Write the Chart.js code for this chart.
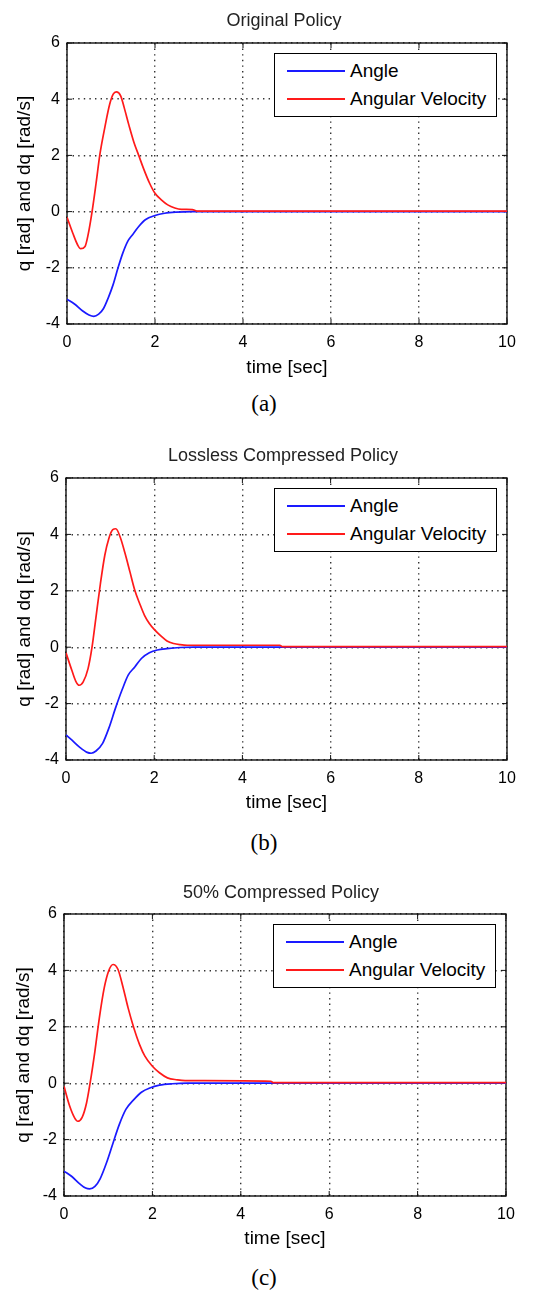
<!DOCTYPE html>
<html>
<head>
<meta charset="utf-8">
<title>Policy comparison</title>
<script src="https://cdn.jsdelivr.net/npm/chart.js@4.4.0/dist/chart.umd.min.js"></script>
<style>
    body { margin: 0; background: #fff; }
    #page {
        position: relative;
        width: 547px;
        height: 1295px;
        overflow: hidden;
        font-family: "Liberation Sans", Arial, sans-serif;
    }
    .panel { position: absolute; left: 0; width: 547px; }
    .title, .caption {
        position: absolute;
        white-space: nowrap;
        transform: translate(-50%, -50%);
    }
    .title { font-size: 18px; color: #222; }
    .caption { font-family: "Liberation Serif", "Times New Roman", serif; font-size: 23px; color: #000; }
    .legend {
        position: absolute;
        background: #fff;
        border: 1px solid #000;
        box-sizing: border-box;
    }
    .legend .row {
        position: absolute;
        left: 0;
        height: 24px;
        display: flex;
        align-items: center;
        font-size: 19px;
        color: #000;
        white-space: nowrap;
    }
    .legend .swatch { display: inline-block; width: 58px; height: 2px; margin: 0 5px 0 12px; }
</style>
</head>
<body>
<div id="page"></div>
<script>
// legend / titles
const seriesLabels = ['Angle', 'Angular Velocity'];
const seriesColors = ['#1a1aff', '#ff1a1a'];
const titles = ['Original Policy', 'Lossless Compressed Policy', '50% Compressed Policy'];
const captions = ['(a)', '(b)', '(c)'];
const xLabel = 'time [sec]';
const yLabel = 'q [rad] and dq [rad/s]';
const xRange = [0, 10];
const yRange = [-4, 6];
const tickStep = 2;

// (a) Original Policy
const timeAngleA = [0, 0.17, 0.35, 0.5, 0.61, 0.72, 0.83, 0.94, 1.05, 1.16, 1.27, 1.38, 1.49, 1.63, 1.78, 2.0, 2.22, 2.48, 2.85, 10];
const angleA     = [-3.12, -3.29, -3.53, -3.68, -3.73, -3.65, -3.45, -3.06, -2.59, -2.0, -1.47, -1.06, -0.82, -0.53, -0.29, -0.14, -0.06, -0.02, 0, 0];
const timeVelA   = [0, 0.13, 0.24, 0.31, 0.41, 0.48, 0.57, 0.66, 0.75, 0.86, 0.97, 1.05, 1.12, 1.22, 1.30, 1.41, 1.52, 1.63, 1.74, 1.88, 2.0, 2.15, 2.29, 2.45, 2.6, 2.85, 2.95, 10];
const velA       = [-0.2, -0.76, -1.18, -1.32, -1.24, -0.82, 0, 1.0, 2.06, 3.0, 3.82, 4.18, 4.26, 4.12, 3.7, 3.06, 2.47, 2.0, 1.53, 1.0, 0.65, 0.41, 0.24, 0.13, 0.08, 0.07, 0.02, 0.02];

// (b) Lossless Compressed Policy
const timeAngleB = [0, 0.13, 0.32, 0.48, 0.57, 0.68, 0.83, 0.97, 1.12, 1.27, 1.41, 1.56, 1.71, 1.89, 2.07, 2.29, 2.59, 2.9, 10];
const angleB     = [-3.11, -3.29, -3.56, -3.73, -3.76, -3.68, -3.41, -2.88, -2.17, -1.52, -0.99, -0.7, -0.4, -0.2, -0.1, -0.05, -0.01, 0, 0];
const timeVelB   = [0, 0.13, 0.22, 0.30, 0.39, 0.50, 0.59, 0.68, 0.78, 0.88, 0.97, 1.06, 1.13, 1.23, 1.34, 1.45, 1.56, 1.67, 1.78, 1.89, 2.0, 2.15, 2.29, 2.44, 2.59, 2.75, 4.85, 4.9, 10];
const velB       = [-0.2, -0.81, -1.2, -1.35, -1.23, -0.76, 0, 1.07, 2.25, 3.26, 3.85, 4.17, 4.2, 3.9, 3.32, 2.67, 2.02, 1.55, 1.13, 0.84, 0.63, 0.4, 0.22, 0.13, 0.09, 0.07, 0.07, 0.02, 0.02];

// (c) 50% Compressed Policy
const timeAngleC = [0, 0.17, 0.35, 0.49, 0.58, 0.70, 0.82, 0.96, 1.11, 1.25, 1.40, 1.58, 1.76, 1.94, 2.16, 2.45, 2.8, 10];
const angleC     = [-3.12, -3.3, -3.56, -3.72, -3.75, -3.66, -3.38, -2.83, -2.12, -1.47, -0.93, -0.58, -0.31, -0.17, -0.07, -0.02, 0, 0];
const timeVelC   = [0, 0.13, 0.24, 0.31, 0.41, 0.51, 0.59, 0.70, 0.80, 0.91, 1.01, 1.11, 1.22, 1.33, 1.45, 1.58, 1.71, 1.83, 2.0, 2.16, 2.34, 2.56, 2.74, 4.68, 4.73, 10];
const velC       = [-0.11, -0.82, -1.23, -1.35, -1.21, -0.7, 0, 1.14, 2.32, 3.38, 3.98, 4.21, 4.04, 3.44, 2.67, 1.96, 1.37, 0.96, 0.6, 0.37, 0.19, 0.12, 0.09, 0.07, 0.02, 0.02];

// page layout: plot box [left, top, right, bottom] in page pixels
const panels = [
    { plot: [67, 43, 507, 324], titlePos: [284, 20], xLabelY: 368, captionY: 404, yLabelX: 25,
      tAng: timeAngleA, ang: angleA, tVel: timeVelA, vel: velA },
    { plot: [66, 478, 507, 760], titlePos: [283, 455], xLabelY: 803, captionY: 843, yLabelX: 25,
      tAng: timeAngleB, ang: angleB, tVel: timeVelB, vel: velB },
    { plot: [64, 914, 506, 1196], titlePos: [281, 892], xLabelY: 1239, captionY: 1278, yLabelX: 24,
      tAng: timeAngleC, ang: angleC, tVel: timeVelC, vel: velC }
];

const page = document.getElementById('page');

function toPoints(xs, ys) {
    return xs.map((x, i) => ({ x: x, y: ys[i] }));
}

// solid box round the axes, with short inward ticks like matlab
const framePlugin = {
    id: 'frame',
    beforeDatasetsDraw(chart) {
        const { ctx, chartArea: a, scales } = chart;
        ctx.save();
        ctx.strokeStyle = '#111';
        ctx.lineWidth = 1.4;
        ctx.strokeRect(a.left, a.top, a.right - a.left, a.bottom - a.top);
        ctx.lineWidth = 1;
        ctx.beginPath();
        scales.x.ticks.forEach(t => {
            const px = scales.x.getPixelForValue(t.value);
            ctx.moveTo(px, a.bottom); ctx.lineTo(px, a.bottom - 5);
            ctx.moveTo(px, a.top); ctx.lineTo(px, a.top + 5);
        });
        scales.y.ticks.forEach(t => {
            const py = scales.y.getPixelForValue(t.value);
            ctx.moveTo(a.left, py); ctx.lineTo(a.left + 5, py);
            ctx.moveTo(a.right, py); ctx.lineTo(a.right - 5, py);
        });
        ctx.stroke();
        ctx.restore();
    }
};

function addText(cls, text, x, y) {
    const el = document.createElement('div');
    el.className = cls;
    el.textContent = text;
    el.style.left = x + 'px';
    el.style.top = y + 'px';
    page.appendChild(el);
}

function addLegend(p) {
    const [L, T, R] = p.plot;
    const box = document.createElement('div');
    box.className = 'legend';
    box.style.left = (R - 10 - 223) + 'px';
    box.style.top = (T + 10) + 'px';
    box.style.width = '223px';
    box.style.height = '64px';
    [18, 46].forEach((cy, i) => {
        const row = document.createElement('div');
        row.className = 'row';
        row.style.top = (cy - 12 - 1) + 'px';
        const sw = document.createElement('span');
        sw.className = 'swatch';
        sw.style.background = seriesColors[i];
        row.appendChild(sw);
        row.appendChild(document.createTextNode(seriesLabels[i]));
        box.appendChild(row);
    });
    page.appendChild(box);
}

function makePanel(p, idx) {
    const [L, T, R, B] = p.plot;
    const top = T - 20;
    const height = p.xLabelY + 16 - top;
    const xAxisH = height - (B - top);

    const div = document.createElement('div');
    div.className = 'panel';
    div.style.top = top + 'px';
    div.style.height = height + 'px';
    const canvas = document.createElement('canvas');
    canvas.width = 547;
    canvas.height = height;
    div.appendChild(canvas);
    page.appendChild(div);

    const gridStyle = { color: 'rgba(0,0,0,0.8)', lineWidth: 1.4, drawTicks: false };

    new Chart(canvas, {
        type: 'line',
        data: {
            // velocity first so the red line sits on top where they overlap
            datasets: [{
                label: seriesLabels[1],
                data: toPoints(p.tVel, p.vel),
                borderColor: seriesColors[1]
            }, {
                label: seriesLabels[0],
                data: toPoints(p.tAng, p.ang),
                borderColor: seriesColors[0]
            }]
        },
        options: {
            responsive: false,
            animation: false,
            layout: { padding: { top: 20, right: 547 - R, left: 0, bottom: 0 } },
            elements: {
                point: { radius: 0 },
                line: { borderWidth: 1.7, cubicInterpolationMode: 'monotone' }
            },
            plugins: { legend: { display: false }, tooltip: { enabled: false } },
            scales: {
                x: {
                    type: 'linear',
                    min: xRange[0], max: xRange[1],
                    ticks: { stepSize: tickStep, padding: 9, color: '#000', maxRotation: 0,
                             font: { family: '"Liberation Sans", Arial', size: 16 } },
                    grid: gridStyle,
                    border: { display: false, dash: [1.4, 4.2] },
                    title: { display: true, text: xLabel, color: '#000',
                             font: { family: '"Liberation Sans", Arial', size: 19 },
                             padding: { top: 0, bottom: height - 11.4 - (p.xLabelY - top) } },
                    afterFit: s => { s.height = xAxisH; }
                },
                y: {
                    min: yRange[0], max: yRange[1],
                    ticks: { stepSize: tickStep, padding: 7, color: '#000',
                             font: { family: '"Liberation Sans", Arial', size: 16 } },
                    grid: gridStyle,
                    border: { display: false, dash: [1.4, 4.2] },
                    title: { display: true, text: yLabel, color: '#000',
                             font: { family: '"Liberation Sans", Arial', size: 19 },
                             padding: { top: p.yLabelX - 11.4, bottom: 0 } },
                    afterFit: s => { s.width = L; }
                }
            }
        },
        plugins: [framePlugin]
    });

    addText('title', titles[idx], p.titlePos[0], p.titlePos[1]);
    addText('caption', captions[idx], 264, p.captionY);
    addLegend(p);
}

panels.forEach(makePanel);
</script>
</body>
</html>
